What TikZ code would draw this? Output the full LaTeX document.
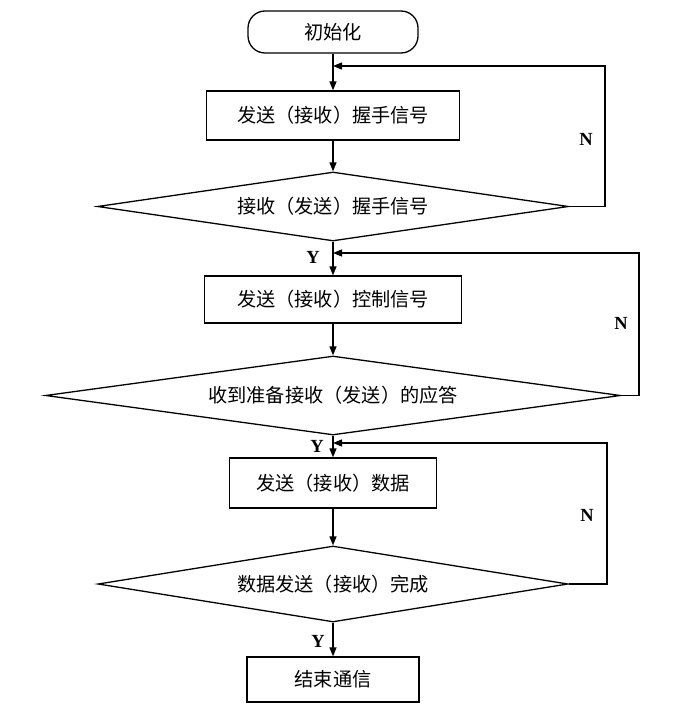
\documentclass[tikz,border=0pt]{standalone}
\usepackage{fontspec}
\setmainfont{Liberation Serif}
\newfontfamily\cjk{Noto Sans CJK SC}
\usetikzlibrary{shapes.geometric,arrows.meta}
\begin{document}
\begin{tikzpicture}[x=1pt,y=-1pt,line width=1.3pt,
  >={Triangle[length=9pt,width=7pt]},
  cjktext/.style={font=\cjk\fontsize{19.2}{22}\selectfont},
  proc/.style={draw,rectangle,inner sep=0pt,cjktext},
  term/.style={proc,rounded corners=17pt},
  decision/.style={draw,diamond,aspect=6,inner sep=0pt,cjktext},
  flow/.style={->},
  yn/.style={font=\bfseries\fontsize{18.5}{20}\selectfont,inner sep=0pt}]
\fill[white] (0,0) rectangle (690,714);
\useasboundingbox (0,0) rectangle (690,714);

\node[term,minimum width=170pt,minimum height=42pt] (init) at (333,32) {初始化};
\node[proc,minimum width=253pt,minimum height=49pt] (b1) at (333,115.5) {发送（接收）握手信号};
\node[decision,minimum width=471pt,minimum height=69pt] (d1) at (333,206.5) {接收（发送）握手信号};
\node[proc,minimum width=257pt,minimum height=47pt] (b2) at (333,299.5) {发送（接收）控制信号};
\node[decision,minimum width=575pt,minimum height=79pt] (d2) at (333,395.5) {收到准备接收（发送）的应答};
\node[proc,minimum width=207pt,minimum height=50pt] (b3) at (333,483) {发送（接收）数据};
\node[decision,minimum width=470pt,minimum height=76pt] (d3) at (333,584) {数据发送（接收）完成};
\node[proc,minimum width=172pt,minimum height=45pt] (b4) at (333,679.5) {结束通信};

\coordinate (j1) at (333,66);
\coordinate (j2) at (333,253);
\coordinate (j3) at (333,443);
\coordinate (r1) at (605,206.5);
\coordinate (r2) at (639,395.5);
\coordinate (r3) at (607,584);

\draw[flow] (init) -- (b1);
\draw[flow] (b1) -- (d1);
\draw[flow] (d1) -- (b2);
\draw[flow] (b2) -- (d2);
\draw[flow] (d2) -- (b3);
\draw[flow] (b3) -- (d3);
\draw[flow] (d3) -- (b4);

\draw[flow] (d1.east) -- (r1) |- (j1);
\draw[flow] (d2.east) -- (r2) |- (j2);
\draw[flow] (d3.east) -- (r3) |- (j3);

\node[yn] (n1) at (586,139) {N};
\node[yn] (n2) at (621,323) {N};
\node[yn] (n3) at (587,515) {N};
\node[yn] (y1) at (313,257) {Y};
\node[yn] (y2) at (317,446) {Y};
\node[yn] (y3) at (318,641) {Y};
\end{tikzpicture}
\end{document}
